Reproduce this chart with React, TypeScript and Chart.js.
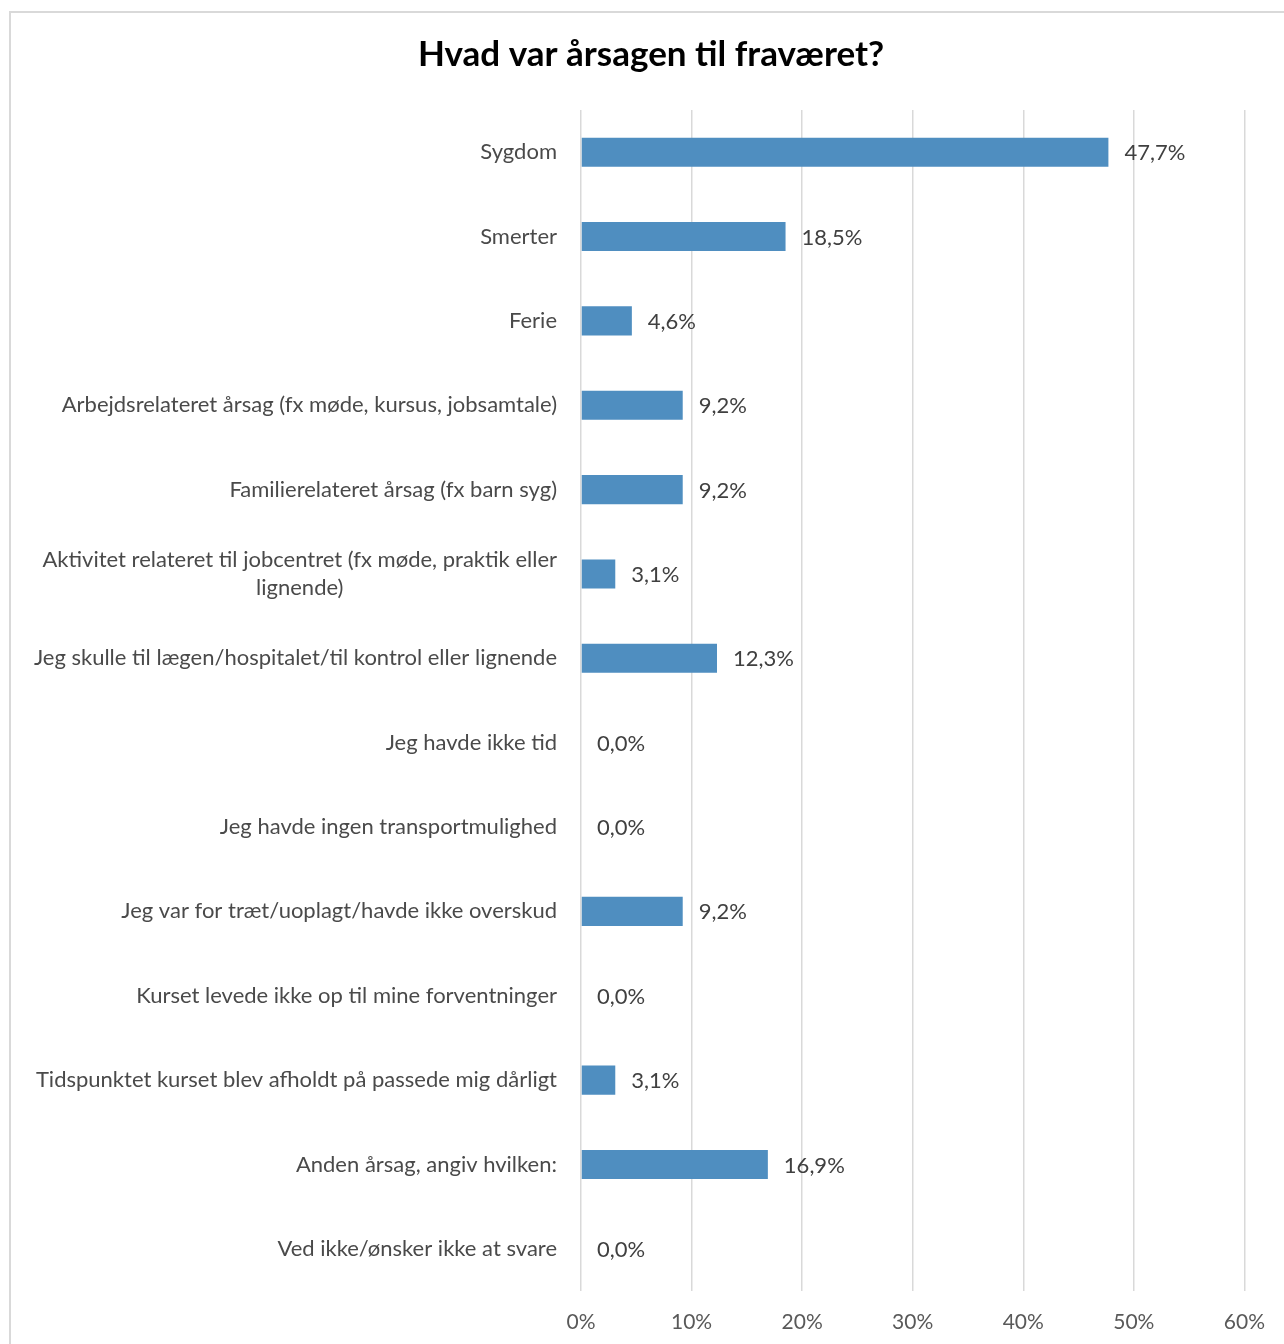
import React, { useEffect, useRef } from "react";
import { Chart, registerables } from "chart.js";

Chart.register(...registerables);

const title = "Hvad var årsagen til fraværet?";
const categories: (string | string[])[] = [
  "Sygdom",
  "Smerter",
  "Ferie",
  "Arbejdsrelateret årsag (fx møde, kursus, jobsamtale)",
  "Familierelateret årsag (fx barn syg)",
  ["Aktivitet relateret til jobcentret (fx møde, praktik eller", "lignende)"],
  "Jeg skulle til lægen/hospitalet/til kontrol eller lignende",
  "Jeg havde ikke tid",
  "Jeg havde ingen transportmulighed",
  "Jeg var for træt/uoplagt/havde ikke overskud",
  "Kurset levede ikke op til mine forventninger",
  "Tidspunktet kurset blev afholdt på passede mig dårligt",
  "Anden årsag, angiv hvilken:",
  "Ved ikke/ønsker ikke at svare",
];
const values: number[] = [47.7, 18.5, 4.6, 9.2, 9.2, 3.1, 12.3, 0, 0, 9.2, 0, 3.1, 16.9, 0];
const xTicks: number[] = [0, 10, 20, 30, 40, 50, 60];

const FONT = "Lato, 'Open Sans', sans-serif";

const fmt = (v: number) => v.toFixed(1).replace(".", ",") + "%";

const labelPlugin = {
  id: "customLabels",
  afterDraw(chart: any) {
    const ctx = chart.ctx;
    const yScale = chart.scales.y;
    const xScale = chart.scales.x;
    const meta = chart.getDatasetMeta(0);
    ctx.save();
    // title
    ctx.font = `bold 35px ${FONT}`;
    ctx.fillStyle = "#000000";
    ctx.textAlign = "center";
    ctx.textBaseline = "middle";
    ctx.fillText(title, 651, 55);

    // category labels
    ctx.font = `22px ${FONT}`;
    ctx.fillStyle = "#4a4a4a";
    const right = chart.chartArea.left - 24;
    const lineH = 28;
    categories.forEach((lab, i) => {
      const y = yScale.getPixelForTick(i);
      const lines = Array.isArray(lab) ? lab : [lab];
      const maxW = Math.max(...lines.map((l) => ctx.measureText(l).width));
      const startY = y - ((lines.length - 1) * lineH) / 2;
      lines.forEach((l, k) => {
        if (lines.length > 1) {
          ctx.textAlign = "center";
          ctx.fillText(l, right - maxW / 2, startY + k * lineH);
        } else {
          ctx.textAlign = "right";
          ctx.fillText(l, right, startY + k * lineH);
        }
      });
    });

    // data labels
    ctx.fillStyle = "#404040";
    ctx.textAlign = "left";
    meta.data.forEach((bar: any, i: number) => {
      const x = xScale.getPixelForValue(values[i]);
      ctx.fillText(fmt(values[i]), x + 16, bar.y + 1);
    });
    ctx.restore();
  },
};

export default function App() {
  const ref = useRef<HTMLCanvasElement | null>(null);
  useEffect(() => {
    if (!ref.current) return;
    const chart = new Chart(ref.current, {
      type: "bar",
      data: {
        labels: categories,
        datasets: [
          {
            data: values,
            backgroundColor: "#4f8ec0",
            borderWidth: 0,
            categoryPercentage: 1,
            barPercentage: 0.345,
          },
        ],
      },
      options: {
        indexAxis: "y",
        responsive: false,
        animation: false,
        layout: { padding: { left: 0, right: 39, top: 110, bottom: 0 } },
        plugins: {
          legend: { display: false },
          tooltip: { enabled: false },
          title: { display: false },
        },
        scales: {
          x: {
            min: 0,
            max: 60,
            afterBuildTicks: (scale: any) => {
              scale.ticks = xTicks.map((v) => ({ value: v }));
            },
            afterFit: (scale: any) => {
              scale.height = 53;
            },
            ticks: {
              color: "#595959",
              font: { family: FONT, size: 21 },
              padding: 19,
              callback: (v: any) => v + "%",
            },
            grid: { color: "#d9d9d9", lineWidth: 1.5, drawTicks: false },
            border: { display: false },
          },
          y: {
            afterFit: (scale: any) => {
              scale.width = 581;
            },
            ticks: { display: false },
            grid: { display: false },
            border: { display: false },
          },
        },
      },
      plugins: [labelPlugin],
    });
    return () => chart.destroy();
  }, []);

  return (
    <div
      style={{
        position: "fixed",
        left: 0,
        top: 0,
        width: 1284,
        height: 1344,
        overflow: "hidden",
        background: "#ffffff",
      }}
    >
      <div
        style={{
          position: "absolute",
          left: 9,
          top: 11,
          width: 1300,
          height: 1360,
          border: "2px solid #d9d9d9",
          boxSizing: "border-box",
        }}
      />
      <canvas
        ref={ref}
        width={1284}
        height={1344}
        style={{ position: "absolute", left: 0, top: 0, width: 1284, height: 1344 }}
      />
    </div>
  );
}
